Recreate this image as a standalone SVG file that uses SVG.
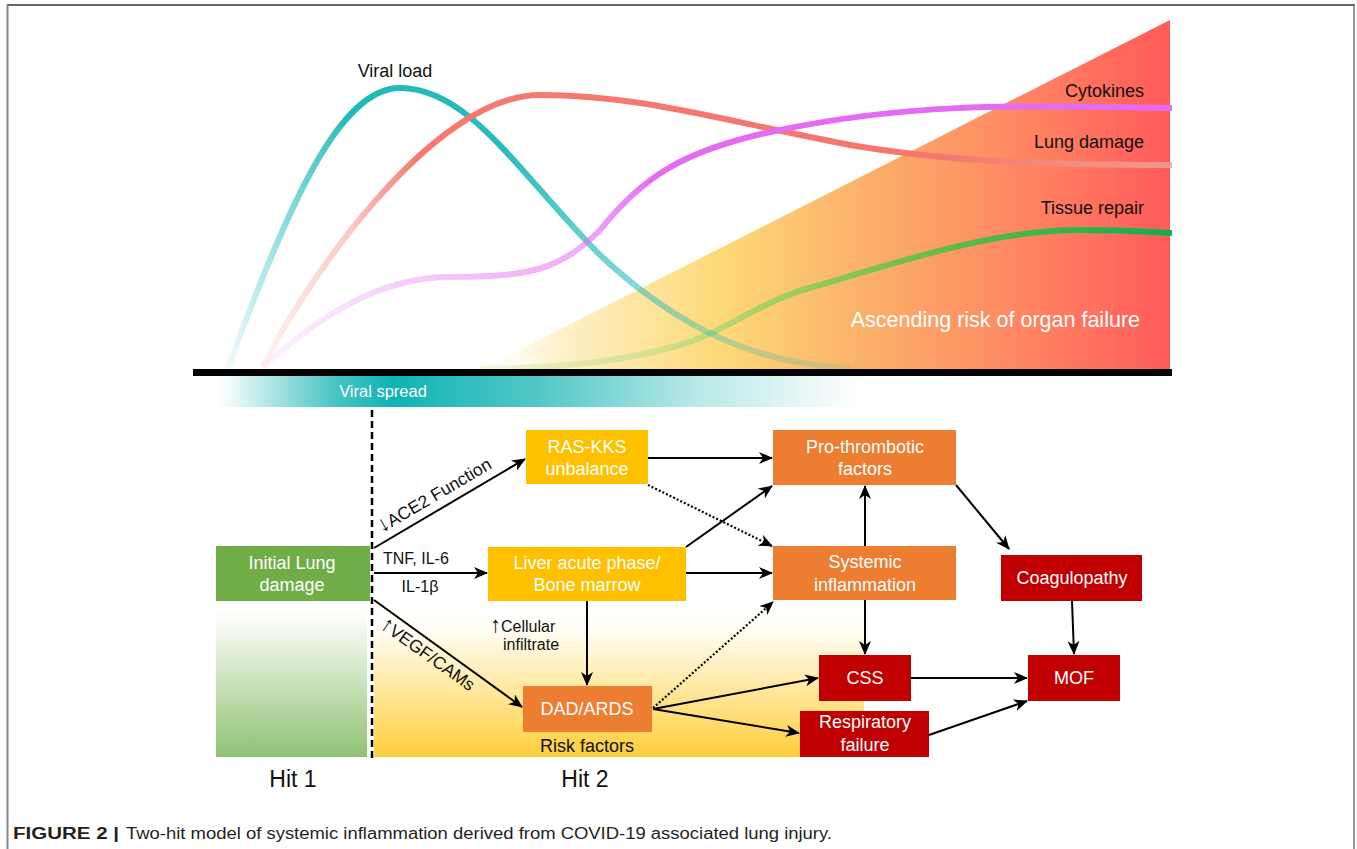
<svg xmlns="http://www.w3.org/2000/svg" width="1357" height="849" viewBox="0 0 1357 849">
<style>
text{font-family:"Liberation Sans",Arial,sans-serif}
.bx{font-size:18px;fill:#fff;text-anchor:middle}
.lb{font-size:18px;fill:#111}
.sm{font-size:16px;fill:#111}
.rt{font-size:17.5px;fill:#111}
.ar{font-size:22px}
.ln{stroke:#000;stroke-width:2;fill:none;marker-end:url(#ah)}
.dt{stroke:#000;stroke-width:2.2;fill:none;stroke-dasharray:2 2;marker-end:url(#ah)}
.curve{fill:none;stroke-width:6;stroke-linecap:butt}
.y{fill:#FFC000}.o{fill:#ED7D31}.r{fill:#C00000}.g{fill:#70AD47}
</style>
<defs>
<marker id="ah" markerUnits="userSpaceOnUse" markerWidth="14" markerHeight="12" refX="13" refY="6" orient="auto">
<path d="M0,0 L14,6 L0,12 L4,6 z" fill="#000"/>
</marker>
<linearGradient id="tri" gradientUnits="userSpaceOnUse" x1="480" y1="0" x2="1170" y2="0">
<stop offset="0" stop-color="#FFF8E6" stop-opacity="0"/>
<stop offset="0.12" stop-color="#FEF0C8"/>
<stop offset="0.35" stop-color="#FDD977"/>
<stop offset="0.56" stop-color="#FBB06A"/>
<stop offset="0.78" stop-color="#FF8762"/>
<stop offset="1" stop-color="#FF5A5A"/>
</linearGradient>
<linearGradient id="gv" gradientUnits="userSpaceOnUse" x1="227" y1="0" x2="850" y2="0">
<stop offset="0" stop-color="#12B5B5" stop-opacity="0.05"/>
<stop offset="0.1" stop-color="#12B5B5" stop-opacity="0.5"/>
<stop offset="0.2" stop-color="#12B5B5" stop-opacity="0.95"/>
<stop offset="0.45" stop-color="#12B5B5" stop-opacity="0.9"/>
<stop offset="0.6" stop-color="#12B5B5" stop-opacity="0.6"/>
<stop offset="0.8" stop-color="#12B5B5" stop-opacity="0.3"/>
<stop offset="1" stop-color="#12B5B5" stop-opacity="0.12"/>
</linearGradient>
<linearGradient id="gl" gradientUnits="userSpaceOnUse" x1="262" y1="0" x2="1172" y2="0">
<stop offset="0" stop-color="#F4736A" stop-opacity="0.08"/>
<stop offset="0.1" stop-color="#F4736A" stop-opacity="0.4"/>
<stop offset="0.17" stop-color="#F4736A" stop-opacity="0.95"/>
<stop offset="0.75" stop-color="#F4776E"/>
<stop offset="1" stop-color="#EFA096" stop-opacity="0.85"/>
</linearGradient>
<linearGradient id="gc" gradientUnits="userSpaceOnUse" x1="263" y1="0" x2="1172" y2="0">
<stop offset="0" stop-color="#E36CF2" stop-opacity="0.08"/>
<stop offset="0.2" stop-color="#E36CF2" stop-opacity="0.4"/>
<stop offset="0.35" stop-color="#E36CF2" stop-opacity="0.55"/>
<stop offset="0.43" stop-color="#E36CF2" stop-opacity="1"/>
<stop offset="1" stop-color="#E36CF2"/>
</linearGradient>
<linearGradient id="gt" gradientUnits="userSpaceOnUse" x1="480" y1="0" x2="1172" y2="0">
<stop offset="0" stop-color="#D5E8A8" stop-opacity="0.3"/>
<stop offset="0.25" stop-color="#C8E08A" stop-opacity="0.8"/>
<stop offset="0.45" stop-color="#9DCC5A"/>
<stop offset="0.7" stop-color="#5BB848"/>
<stop offset="1" stop-color="#0DAF4E"/>
</linearGradient>
<linearGradient id="gs" gradientUnits="userSpaceOnUse" x1="220" y1="0" x2="860" y2="0">
<stop offset="0" stop-color="#1AB5B5" stop-opacity="0"/>
<stop offset="0.18" stop-color="#1AB5B5" stop-opacity="0.8"/>
<stop offset="0.27" stop-color="#0FB3B5"/>
<stop offset="0.5" stop-color="#1AB5B5" stop-opacity="0.75"/>
<stop offset="0.75" stop-color="#1AB5B5" stop-opacity="0.3"/>
<stop offset="1" stop-color="#1AB5B5" stop-opacity="0"/>
</linearGradient>
<linearGradient id="ggr" gradientUnits="userSpaceOnUse" x1="0" y1="600" x2="0" y2="757">
<stop offset="0" stop-color="#fff" stop-opacity="0"/>
<stop offset="0.2" stop-color="#F2F8EC"/>
<stop offset="1" stop-color="#8FC274"/>
</linearGradient>
<linearGradient id="gyl" gradientUnits="userSpaceOnUse" x1="0" y1="600" x2="0" y2="757">
<stop offset="0" stop-color="#fff" stop-opacity="0"/>
<stop offset="0.2" stop-color="#FFFDF3"/>
<stop offset="1" stop-color="#FFCE3A"/>
</linearGradient>
</defs>

<rect x="0" y="0" width="1357" height="849" fill="#fff"/>
<g id="frame">
<line x1="7" y1="5" x2="1355" y2="5" stroke="#333" stroke-width="1.5"/>
<line x1="7.5" y1="5" x2="7.5" y2="849" stroke="#888" stroke-width="2"/>
<line x1="1354" y1="5" x2="1354" y2="849" stroke="#777" stroke-width="1.5"/>
</g>

<g id="chart">
<polygon points="480,370 1170,20 1170,370" fill="url(#tri)"/>
<path class="curve" stroke="url(#gt)" d="M480,369 C560,368 620,362 680,345 C730,330 760,300 820,285 C920,255 1000,230 1080,230 C1120,230 1150,232 1172,233"/>
<path class="curve" stroke="url(#gv)" d="M227,370 C290,200 340,88 400,88 C470,88 520,175 600,255 C680,330 760,365 850,368"/>
<path class="curve" stroke="url(#gl)" d="M263,367 C300,290 430,95 540,95 C640,95 720,120 850,145 C950,162 1050,165 1172,165"/>
<path class="curve" stroke="url(#gc)" d="M263,367 C320,315 380,278 447,277 C530,277 560,270 600,230 C640,180 680,150 780,130 C900,105 1000,104 1172,108"/>
<rect x="193" y="369" width="979" height="7" fill="#000"/>
<rect x="220" y="376" width="640" height="31" fill="url(#gs)"/>
<text x="383" y="397" font-size="16.5" fill="#fff" text-anchor="middle">Viral spread</text>
<text class="lb" x="395" y="77" text-anchor="middle">Viral load</text>
<text class="lb" x="1144" y="97" text-anchor="end">Cytokines</text>
<text class="lb" x="1144" y="148" text-anchor="end">Lung damage</text>
<text class="lb" x="1144" y="214" text-anchor="end">Tissue repair</text>
<text x="1140" y="327" font-size="21.5" fill="#fff" text-anchor="end">Ascending risk of organ failure</text>
</g>

<g id="backgrounds">
<rect x="216" y="600" width="151" height="157" fill="url(#ggr)"/>
<rect x="374" y="600" width="490" height="157" fill="url(#gyl)"/>
<line x1="372" y1="410" x2="372" y2="760" stroke="#000" stroke-width="2.5" stroke-dasharray="7 4"/>
<text x="587" y="752" text-anchor="middle" style="font-size:18px;fill:#111">Risk factors</text>
<text x="293" y="787" font-size="23" fill="#111" text-anchor="middle">Hit 1</text>
<text x="585" y="787" font-size="23" fill="#111" text-anchor="middle">Hit 2</text>
</g>

<g id="n-initial"><rect class="g" x="216" y="546" width="154" height="55"/><text class="bx" x="292" y="569">Initial Lung</text><text class="bx" x="292" y="591">damage</text></g>
<g id="n-ras"><rect class="y" x="526" y="430" width="122" height="54"/><text class="bx" x="587" y="453">RAS-KKS</text><text class="bx" x="587" y="475">unbalance</text></g>
<g id="n-liver"><rect class="y" x="488" y="547" width="198" height="54"/><text class="bx" x="587" y="569">Liver acute phase/</text><text class="bx" x="587" y="591">Bone marrow</text></g>
<g id="n-dad"><rect class="o" x="523" y="686" width="129" height="46"/><text class="bx" x="587" y="715">DAD/ARDS</text></g>
<g id="n-pro"><rect class="o" x="773" y="430" width="183" height="55"/><text class="bx" x="865" y="453">Pro-thrombotic</text><text class="bx" x="865" y="475">factors</text></g>
<g id="n-sys"><rect class="o" x="773" y="546" width="183" height="54"/><text class="bx" x="865" y="568">Systemic</text><text class="bx" x="865" y="591">inflammation</text></g>
<g id="n-coag"><rect class="r" x="1001" y="555" width="141" height="46"/><text class="bx" x="1072" y="584">Coagulopathy</text></g>
<g id="n-css"><rect class="r" x="819" y="655" width="92" height="46"/><text class="bx" x="865" y="684">CSS</text></g>
<g id="n-mof"><rect class="r" x="1028" y="655" width="92" height="46"/><text class="bx" x="1074" y="684">MOF</text></g>
<g id="n-resp"><rect class="r" x="800" y="711" width="129" height="46"/><text class="bx" x="865" y="728">Respiratory</text><text class="bx" x="865" y="751">failure</text></g>

<g id="connectors">
<path class="ln" d="M374,548 L525,459"/>
<path class="ln" d="M374,573 L487,573"/>
<path class="ln" d="M374,600 L522,707"/>
<path class="ln" d="M648,458 L772,458"/>
<path class="dt" d="M648,485 L772,546"/>
<path class="ln" d="M686,547 L772,486"/>
<path class="ln" d="M686,573 L772,573"/>
<path class="ln" d="M587,601 L587,685"/>
<path class="dt" d="M653,708 L773,602"/>
<path class="ln" d="M653,709 L818,678"/>
<path class="ln" d="M653,709 L799,733"/>
<path class="ln" d="M865,546 L865,486"/>
<path class="ln" d="M865,600 L865,654"/>
<path class="ln" d="M956,485 L1009,549"/>
<path class="ln" d="M1072,601 L1074,654"/>
<path class="ln" d="M911,678 L1027,678"/>
<path class="ln" d="M929,735 L1027,701"/>
<text class="rt" transform="translate(382,533) rotate(-30.5)"><tspan class="ar">↓</tspan>ACE2 Function</text>
<text class="sm" x="383" y="564">TNF, IL-6</text>
<text class="sm" x="420" y="592" text-anchor="middle">IL-1β</text>
<text class="rt" transform="translate(379,627) rotate(35.5)"><tspan class="ar">↑</tspan>VEGF/CAMs</text>
<text class="sm" x="490" y="632"><tspan class="ar">↑</tspan>Cellular</text>
<text class="sm" x="503" y="650">infiltrate</text>
</g>

<g id="caption">
<text x="13" y="839" font-size="16" font-weight="bold" fill="#231F20" textLength="106" lengthAdjust="spacingAndGlyphs">FIGURE 2 |</text>
<text x="126" y="839" font-size="16" fill="#231F20" textLength="706" lengthAdjust="spacingAndGlyphs">Two-hit model of systemic inflammation derived from COVID-19 associated lung injury.</text>
</g>
</svg>
